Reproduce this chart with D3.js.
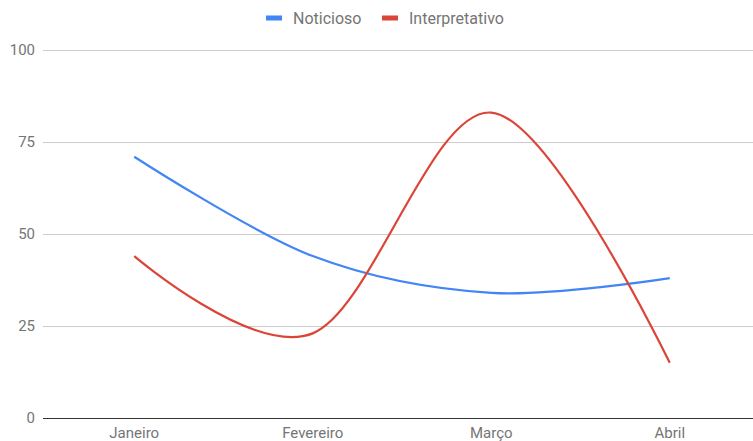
<!DOCTYPE html>
<html>
<head>
<meta charset="utf-8">
<script src="https://cdn.jsdelivr.net/npm/d3@7"></script>
<style>
  html, body { margin: 0; padding: 0; background: #fff; }
  svg { display: block; font-family: Roboto, "Noto Sans", Arial, sans-serif; }
</style>
</head>
<body>
<svg id="chart" width="753" height="441"></svg>
<script>
// Monthly scores for the two text genres
const months = ["Janeiro", "Fevereiro", "Março", "Abril"];
const noticioso = [71, 44, 34, 38];
const interpretativo = [44, 23, 83, 15];
const yTicks = [0, 25, 50, 75, 100];
const seriesNames = ["Noticioso", "Interpretativo"];
const seriesColors = ["#4285f4", "#db4437"];

const svg = d3.select("#chart");
const W = 753, H = 441;
const plot = { left: 45, right: 759, top: 50, bottom: 418 };

const x = d3.scaleBand().domain(months).range([plot.left, plot.right]);
const y = d3.scaleLinear().domain([0, 100]).range([plot.bottom, plot.top]);

// Horizontal gridlines
svg.append("g")
  .selectAll("line")
  .data(yTicks.filter(t => t !== 0))
  .join("line")
  .attr("x1", 43).attr("x2", W)
  .attr("y1", d => y(d) + 0.5).attr("y2", d => y(d) + 0.5)
  .attr("stroke", "#cccccc").attr("stroke-width", 1);

// Y axis labels
const yAxis = d3.axisLeft(y).tickValues(yTicks).tickSize(0).tickPadding(0);
svg.append("g")
  .attr("transform", `translate(35,0)`)
  .call(yAxis)
  .call(g => g.select(".domain").remove())
  .call(g => g.selectAll("text")
    .attr("fill", "#757575")
    .attr("font-size", 15)
    .attr("font-family", "Roboto, sans-serif"));

// X axis labels
const xAxis = d3.axisBottom(x).tickSize(0).tickPadding(0);
svg.append("g")
  .attr("transform", `translate(0,${plot.bottom})`)
  .call(xAxis)
  .call(g => g.select(".domain").remove())
  .call(g => g.selectAll("text")
    .attr("dy", null)
    .attr("y", 20)
    .attr("fill", "#757575")
    .attr("font-size", 15)
    .attr("font-family", "Roboto, sans-serif"));

// Baseline
svg.append("line")
  .attr("x1", 43).attr("x2", W)
  .attr("y1", y(0) + 0.5).attr("y2", y(0) + 0.5)
  .attr("stroke", "#333333").attr("stroke-width", 1);

// Smoothed series lines
const line = d3.line()
  .x((d, i) => x(months[i]) + x.bandwidth() / 2)
  .y(d => y(d))
  .curve(d3.curveCardinal.tension(0));

[noticioso, interpretativo].forEach((vals, k) => {
  svg.append("path")
    .datum(vals)
    .attr("d", line)
    .attr("fill", "none")
    .attr("stroke", seriesColors[k])
    .attr("stroke-width", 2.2)
    .attr("stroke-linejoin", "round");
});

// Legend
const legend = svg.append("g").attr("transform", "translate(0,18)");
const items = [
  { name: seriesNames[0], color: seriesColors[0], x: 266 },
  { name: seriesNames[1], color: seriesColors[1], x: 382 }
];
items.forEach(it => {
  legend.append("rect")
    .attr("x", it.x).attr("y", -2.5)
    .attr("width", 16).attr("height", 5)
    .attr("fill", it.color);
  legend.append("text")
    .attr("x", it.x + 27).attr("y", 5.5)
    .attr("fill", "#757575")
    .attr("font-size", 16)
    .attr("font-family", "Roboto, sans-serif")
    .text(it.name);
});
</script>
</body>
</html>
